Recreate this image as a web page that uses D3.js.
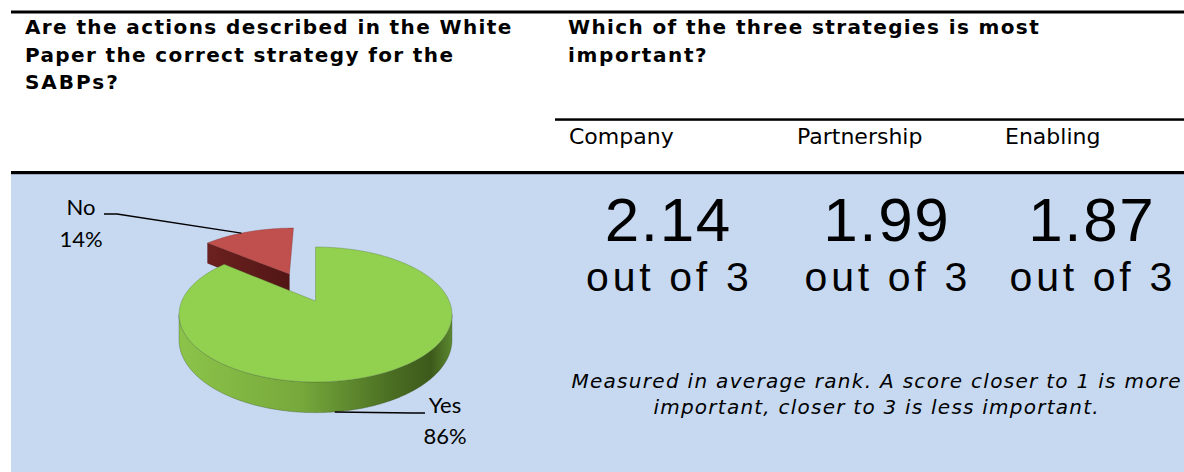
<!DOCTYPE html>
<html><head><meta charset="utf-8">
<script src="https://cdn.jsdelivr.net/npm/d3@7"></script>
<style>html,body{margin:0;padding:0;background:#fff;overflow:hidden}</style>
</head><body>
<svg id="c" width="1184" height="472"></svg>
<script>
// ---------- data ----------
const pieCategories = ["Yes", "No"];
const pieValues = [86, 14];
const strategies = ["Company", "Partnership", "Enabling"];
const scores = [2.14, 1.99, 1.87];
const scoreMax = 3;
const questionLeft = ["Are the actions described in the White", "Paper the correct strategy for the", "SABPs?"];
const questionRight = ["Which of the three strategies is most", "important?"];
const noteLines = ["Measured in average rank. A score closer to 1 is more", "important, closer to 3 is less important."];

// ---------- setup ----------
const svg = d3.select("#c");
const W = 1184, H = 472;
const defs = svg.append("defs");

// background panel + rules
svg.append("rect").attr("x", 11).attr("y", 174).attr("width", W - 11).attr("height", H - 174).attr("fill", "#C6D9F1");
svg.append("rect").attr("x", 11).attr("y", 10.5).attr("width", W - 11).attr("height", 3).attr("fill", "#000");
svg.append("rect").attr("x", 555).attr("y", 118.3).attr("width", W - 555).attr("height", 2.5).attr("fill", "#000");
svg.append("rect").attr("x", 11).attr("y", 171).attr("width", W - 11).attr("height", 3.2).attr("fill", "#000");

// helper: text with tracking factor
function tracked(sel, factor, anchorCenter) {
  sel.each(function () {
    const el = d3.select(this);
    const nat = this.getComputedTextLength();
    const L = nat * factor;
    el.attr("textLength", L).attr("lengthAdjust", "spacing");
    if (anchorCenter !== undefined) el.attr("x", anchorCenter - L / 2);
  });
}

// question headers
const qFont = "'DejaVu Sans', Verdana, sans-serif";
const qBase = [34, 61.7, 89.3];
svg.append("g").selectAll("text").data(questionLeft).join("text")
  .attr("x", 25).attr("y", (d, i) => qBase[i])
  .attr("font-family", qFont).attr("font-weight", "bold").attr("font-size", 20).attr("fill", "#000")
  .text(d => d).call(tracked, 1.118);
svg.append("g").selectAll("text").data(questionRight).join("text")
  .attr("x", 568).attr("y", (d, i) => qBase[i])
  .attr("font-family", qFont).attr("font-weight", "bold").attr("font-size", 20).attr("fill", "#000")
  .text(d => d).call(tracked, 1.118);

// strategy columns
const labelX = d3.scaleOrdinal().domain(strategies).range([569, 797, 1005]);
const colCenter = d3.scaleOrdinal().domain(strategies).range([667.5, 886, 1091]);
svg.append("g").selectAll("text").data(strategies).join("text")
  .attr("x", d => labelX(d)).attr("y", 144.3)
  .attr("font-family", qFont).attr("font-size", 22).attr("fill", "#000")
  .text(d => d);

// score values and "out of 3"
const numFont = "'Liberation Sans', Arial, sans-serif";
const fmt = d3.format(".2f");
svg.append("g").selectAll("text").data(scores).join("text")
  .attr("x", (d, i) => colCenter(strategies[i])).attr("y", 240.5)
  .attr("text-anchor", "middle")
  .attr("font-family", numFont).attr("font-size", 62).attr("fill", "#000")
  .text(d => fmt(d))
  .each(function () {
    const nat = this.getComputedTextLength();
    d3.select(this).attr("textLength", nat * 1.04).attr("lengthAdjust", "spacing");
  });
svg.append("g").selectAll("text").data(scores).join("text")
  .attr("y", 291)
  .attr("font-family", numFont).attr("font-size", 41).attr("fill", "#000")
  .text(() => "out of " + scoreMax)
  .each(function (d, i) { tracked(d3.select(this), 1.19, colCenter(strategies[i])); });

// footnote
const noteBase = [387.5, 413.5];
svg.append("g").selectAll("text").data(noteLines).join("text")
  .attr("y", (d, i) => noteBase[i])
  .attr("font-family", qFont).attr("font-style", "italic").attr("font-size", 20).attr("fill", "#000")
  .text(d => d).call(tracked, 1.125, 876);

// ---------- 3D pie ----------
const data = pieCategories.map((c, i) => ({ cat: c, value: pieValues[i] }));
const total = d3.sum(pieValues);
const pie = d3.pie().sort(null).value(d => d.value).startAngle(0).endAngle(2 * Math.PI);
const arcs = pie(data);

const cx = 315.5, cy = 301, R = 133.7, S = 64.8, persp = 0.2, D = 24.5;
const explode = { Yes: 0, No: 0.5 };
function offsetFor(a) {
  const e = explode[a.data.cat], m = (a.startAngle + a.endAngle) / 2;
  return [e * Math.sin(m), -e * Math.cos(m)];
}
function P(theta, r, off, dz) {
  const u = r * Math.sin(theta) + off[0], v = -r * Math.cos(theta) + off[1];
  const w = 1 - persp * v;
  return [cx + R * u / w, cy + (S * v + D * dz) / w];
}
function arcPts(a0, a1, off, dz) {
  const n = Math.max(2, Math.ceil((a1 - a0) / 0.01));
  return d3.range(n + 1).map(k => P(a0 + (a1 - a0) * k / n, 1, off, dz));
}
const line = d3.line();

// gradients
const gG = defs.append("linearGradient").attr("id", "gSide").attr("gradientUnits", "userSpaceOnUse")
  .attr("x1", 178).attr("x2", 453).attr("y1", 0).attr("y2", 0);
[[0, "#8cc44a"], [0.45, "#76a83b"], [0.78, "#4a6d22"], [0.92, "#3d5a1b"], [1, "#5d8a30"]]
  .forEach(s => gG.append("stop").attr("offset", s[0]).attr("stop-color", s[1]));
const gR = defs.append("linearGradient").attr("id", "rSide").attr("gradientUnits", "userSpaceOnUse")
  .attr("x1", 200).attr("x2", 290).attr("y1", 0).attr("y2", 0);
[[0, "#6e2220"], [1, "#511615"]].forEach(s => gR.append("stop").attr("offset", s[0]).attr("stop-color", s[1]));

const topColor = { Yes: "#92D050", No: "#C0504D" };
const pieG = svg.append("g");
const drawOrder = arcs.slice().sort((a, b) => explode[b.data.cat] - explode[a.data.cat]); // exploded (back) first
const edgeA = Math.asin(persp); // silhouette offset from 90deg / 270deg

drawOrder.forEach(a => {
  const off = offsetFor(a);
  const g = pieG.append("g").attr("class", "slice-" + a.data.cat);
  // start-cut face faces the viewer when the slice starts in the back-left quadrant
  if (Math.cos(a.startAngle) > 0 && Math.sin(a.startAngle) < 0) {
    const q = [P(a.startAngle, 0, off, 0), P(a.startAngle, 1, off, 0), P(a.startAngle, 1, off, 1), P(a.startAngle, 0, off, 1)];
    g.append("path").attr("d", line(q) + "Z").attr("fill", "url(#rSide)")
      .attr("stroke", "rgba(60,10,10,0.5)").attr("stroke-width", 0.6);
  }
  // outer wall, front visible portion
  const w0 = Math.max(a.startAngle, Math.PI / 2 + edgeA), w1 = Math.min(a.endAngle, 3 * Math.PI / 2 - edgeA);
  if (w1 > w0) {
    const topP = arcPts(w0, w1, off, 0), botP = arcPts(w0, w1, off, 1).reverse();
    g.append("path").attr("d", line(topP.concat(botP)) + "Z")
      .attr("fill", a.data.cat === "Yes" ? "url(#gSide)" : "url(#rSide)")
      .attr("stroke", "rgba(50,70,30,0.45)").attr("stroke-width", 0.7);
  }
  // top face
  const pts = [P(0, 0, off, 0)].concat(arcPts(a.startAngle, a.endAngle, off, 0));
  g.append("path").attr("d", line(pts) + "Z").attr("fill", topColor[a.data.cat])
    .attr("stroke", a.data.cat === "Yes" ? "rgba(90,120,60,0.55)" : "rgba(120,40,40,0.5)").attr("stroke-width", 0.7);
});

// labels + leaders
const pct = d3.format(".0%");
const labelFont = "Lato, 'Open Sans', sans-serif";
const labelPos = { No: { x: 81, y: 215, lead: [[104, 214], [117, 214]], anchorFrac: 0.42, dz: 0 },
                   Yes: { x: 445, y: 412.5, lead: [[425, 413], [412, 413]], anchorFrac: 0.56, dz: 1 } };
arcs.forEach(a => {
  const lp = labelPos[a.data.cat], off = offsetFor(a);
  const th = a.startAngle + (a.endAngle - a.startAngle) * lp.anchorFrac;
  const ap = P(th, 1, off, lp.dz);
  svg.append("path").attr("d", line([lp.lead[0], lp.lead[1], ap])).attr("fill", "none").attr("stroke", "#000").attr("stroke-width", 1.5);
  const t = svg.append("text").attr("text-anchor", "middle").attr("font-family", labelFont).attr("font-size", 22).attr("fill", "#000");
  t.append("tspan").attr("x", lp.x).attr("y", lp.y).text(a.data.cat);
  t.append("tspan").attr("x", lp.x).attr("y", lp.y + 31.5).text(pct(a.data.value / total));
});
</script>
</body></html>
